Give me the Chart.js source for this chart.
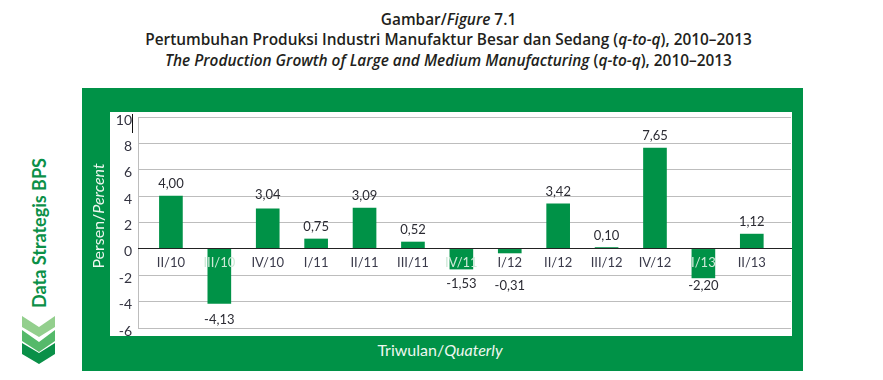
<!DOCTYPE html>
<html>
<head>
<meta charset="utf-8">
<script src="https://cdn.jsdelivr.net/npm/chart.js@4"></script>
<style>
  html, body { margin: 0; padding: 0; background: #fff; }
  body { width: 883px; height: 380px; position: relative; overflow: hidden; font-family: "Open Sans", sans-serif; }
  .title { position: absolute; left: 0; width: 897px; text-align: center; font-weight: 600; font-size: 15.4px; line-height: 20px; color: #231f20; white-space: nowrap; }
  #panel { position: absolute; left: 82px; top: 88px; width: 721px; height: 283px; background: #009247; }
  #plot { position: absolute; left: 110px; top: 112px; width: 682px; height: 224px; background: #fff; }
  #plot canvas { display: block; }
  #yTitle, #xTitle { position: absolute; color: #eef7f0; font-family: Lato, sans-serif; font-size: 16px; white-space: nowrap; }
  #yTitle { left: 97px; top: 216px; transform: translate(-50%, -50%) rotate(-90deg); }
  #xTitle { left: 440px; top: 349px; transform: translate(-50%, -50%); }
  #side { position: absolute; left: 39px; top: 233px; transform: translate(-50%, -50%) rotate(-90deg); color: #0b9048; font-family: Lato, sans-serif; font-weight: 700; font-size: 18px; white-space: nowrap; }
  #cursor { position: absolute; left: 132px; top: 114px; width: 1px; height: 19px; background: #111; }
  #chevrons { position: absolute; left: 22px; top: 316px; }
</style>
</head>
<body>
<div class="title" style="top:10px">Gambar/<i>Figure</i> 7.1</div>
<div class="title" style="top:30px">Pertumbuhan Produksi Industri Manufaktur Besar dan Sedang (<i>q-to-q</i>), 2010–2013</div>
<div class="title" style="top:51px"><i>The Production Growth of Large and Medium Manufacturing</i> (<i>q-to-q</i>), 2010–2013</div>

<div id="side">Data Strategis BPS</div>
<svg id="chevrons" width="34" height="48" viewBox="0 0 34 48">
  <polygon points="0,0 17,11 33,0 33,11 17,21 0,11" fill="#93cf8d"/>
  <polygon points="0,14 17,26 33,14 33,25 17,36 0,25" fill="#55b96a"/>
  <polygon points="0,27 17,37 33,27 33,38 17,48 0,38" fill="#0a9048"/>
</svg>

<div id="panel"></div>
<div id="plot"><canvas id="chart" width="682" height="224"></canvas></div>
<div id="cursor"></div>
<div id="yTitle">Persen/<i>Percent</i></div>
<div id="xTitle">Triwulan/<i>Quaterly</i></div>

<script>
const quarters = ["II/10", "III/10", "IV/10", "I/11", "II/11", "III/11", "IV/11", "I/12", "II/12", "III/12", "IV/12", "I/13", "II/13"];
const growth = [4.00, -4.13, 3.04, 0.75, 3.09, 0.52, -1.53, -0.31, 3.42, 0.10, 7.65, -2.20, 1.12];

// the source has a few labels that sit away from their bars
const labelShift = { 1: 4, 2: -2, 6: 3, 7: 21, 11: -4 };

const green = "#009247";

const barLabels = {
  id: "barLabels",
  afterDatasetsDraw(chart) {
    const ctx = chart.ctx;
    ctx.save();
    ctx.font = "13px Lato, sans-serif";
    ctx.fillStyle = "#2b2b33";
    ctx.textAlign = "center";
    ctx.textBaseline = "middle";
    chart.getDatasetMeta(0).data.forEach((bar, i) => {
      const v = growth[i];
      const y = bar.y + (v < 0 ? 12 : -12) + (labelShift[i] || 0);
      ctx.fillText(v.toFixed(2).replace(".", ","), bar.x, y);
    });
    ctx.restore();
  }
};

new Chart(document.getElementById("chart"), {
  type: "bar",
  data: {
    datasets: [{
      data: growth.map((v, i) => ({ x: i, y: v })),
      backgroundColor: green,
      barThickness: 23
    }]
  },
  options: {
    responsive: false,
    animation: false,
    layout: { padding: { top: 5, bottom: 8, left: 0, right: 1 } },
    plugins: { legend: { display: false }, tooltip: { enabled: false } },
    scales: {
      x: {
        type: "linear",
        position: { y: 0 },
        offset: false,
        min: -0.68,
        max: 12.81,
        afterFit: s => { s.height = 0; },
        grid: { display: false, tickLength: 3 },
        border: { color: "#222", width: 1, z: 1 },
        ticks: {
          z: 1,
          stepSize: 1,
          includeBounds: false,
          autoSkip: false,
          maxRotation: 0,
          padding: 3,
          font: { family: "Lato, sans-serif", size: 13 },
          color: ctx => (growth[ctx.tick.value] < -1 ? "#cfe9d8" : "#3a3a4a"),
          callback: v => quarters[v] || ""
        }
      },
      y: {
        min: -6,
        max: 10,
        afterFit: s => { s.width = 28; s.paddingTop = 0; s.paddingBottom = 0; },
        grid: { color: "#bdbdbd", lineWidth: 1, tickLength: 0 },
        border: { color: "#bdbdbd" },
        ticks: {
          stepSize: 2,
          padding: 6,
          labelOffset: 3,
          font: { family: "Lato, sans-serif", size: 14 },
          color: "#333340"
        }
      }
    }
  },
  plugins: [barLabels]
});
</script>
</body>
</html>
